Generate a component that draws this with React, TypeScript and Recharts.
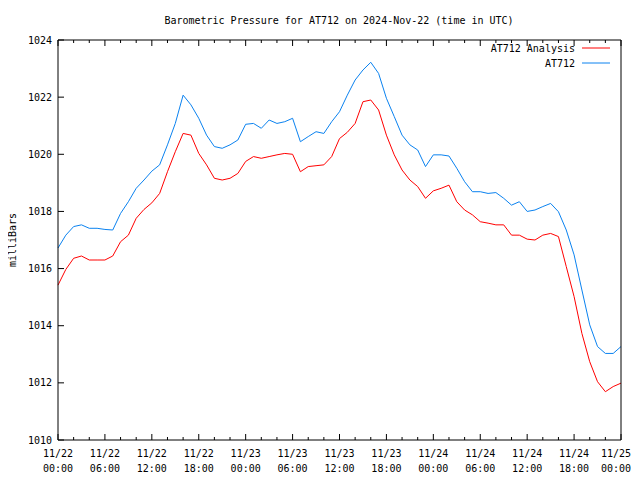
import React from 'react';
import { LineChart, Line, XAxis, YAxis } from 'recharts';

// hours since 2024-11-22 00:00 UTC
const hours = Array.from({ length: 73 }, (_, i) => i);

const at712 = [
  1016.72, 1017.17, 1017.47, 1017.53, 1017.41, 1017.41, 1017.37, 1017.35, 1017.93, 1018.34,
  1018.81, 1019.1, 1019.41, 1019.63, 1020.33, 1021.08, 1022.07, 1021.73, 1021.26, 1020.67,
  1020.27, 1020.21, 1020.33, 1020.5, 1021.05, 1021.08, 1020.91, 1021.2, 1021.08, 1021.14,
  1021.26, 1020.44, 1020.62, 1020.79, 1020.73, 1021.14, 1021.49, 1022.07, 1022.6, 1022.95,
  1023.22, 1022.83, 1021.96, 1021.32, 1020.67, 1020.33, 1020.15, 1019.57, 1019.98, 1019.98,
  1019.94, 1019.51, 1019.04, 1018.69, 1018.69, 1018.63, 1018.66, 1018.46, 1018.22, 1018.34,
  1018.0, 1018.05, 1018.17, 1018.28, 1017.99, 1017.35, 1016.48, 1015.25, 1014.03, 1013.27,
  1013.03, 1013.03, 1013.27,
];

const at712Analysis = [
  1015.42, 1015.97, 1016.36, 1016.44, 1016.3, 1016.3, 1016.3, 1016.44, 1016.94, 1017.17,
  1017.76, 1018.07, 1018.3, 1018.63, 1019.39, 1020.09, 1020.73, 1020.67, 1020.03, 1019.63,
  1019.16, 1019.1, 1019.16, 1019.33, 1019.75, 1019.92, 1019.86, 1019.92, 1019.98, 1020.03,
  1020.0, 1019.39, 1019.57, 1019.6, 1019.63, 1019.92, 1020.55, 1020.77, 1021.08, 1021.84,
  1021.9, 1021.55, 1020.67, 1019.98, 1019.45, 1019.1, 1018.87, 1018.46, 1018.72, 1018.81,
  1018.92, 1018.34, 1018.05, 1017.88, 1017.64, 1017.59, 1017.53, 1017.53, 1017.17, 1017.17,
  1017.03, 1017.0, 1017.17, 1017.23, 1017.12, 1016.07, 1015.02, 1013.73, 1012.74, 1012.04,
  1011.69, 1011.87, 1011.99,
];

const xTicks = [0, 2, 4, 6, 8, 10, 12, 14, 16, 18, 20, 22, 24, 26, 28, 30, 32, 34, 36, 38, 40, 42, 44, 46, 48, 50, 52, 54, 56, 58, 60, 62, 64, 66, 68, 70, 72];
const tickDates = ['11/22', '11/22', '11/22', '11/22', '11/23', '11/23', '11/23', '11/23', '11/24', '11/24', '11/24', '11/24', '11/25'];
const tickTimes = ['00:00', '06:00', '12:00', '18:00', '00:00', '06:00', '12:00', '18:00', '00:00', '06:00', '12:00', '18:00', '00:00'];
const yTicks = [1010, 1012, 1014, 1016, 1018, 1020, 1022, 1024];

const data = hours.map((h, i) => ({ h, analysis: at712Analysis[i], obs: at712[i] }));

const FONT = '"DejaVu Sans Mono", monospace';
const RED = '#ff0000';
const BLUE = '#0a82f0';
const W = 624;
const H = 464;

const BottomTick = (props: any) => {
  const { x, y, payload } = props;
  const major = payload.value % 6 === 0;
  const idx = payload.value / 6;
  // keep the last label inside the page edge
  const last = idx === tickDates.length - 1;
  const tx = last ? W - 1 : x;
  return (
    <g>
      <line x1={x} x2={x} y1={y} y2={y - (major ? 6 : 3)} stroke="#000" />
      {major && (
        <text fontFamily={FONT} fontSize={10} fill="#000" textAnchor={last ? 'end' : 'middle'}>
          <tspan x={tx} y={y + 17}>{tickDates[idx]}</tspan>
          <tspan x={tx} y={y + 31.5}>{tickTimes[idx]}</tspan>
        </text>
      )}
    </g>
  );
};

const TopTick = (props: any) => {
  const { x, y, payload } = props;
  const major = payload.value % 6 === 0;
  return <line x1={x} x2={x} y1={y} y2={y + (major ? 6 : 3)} stroke="#000" />;
};

const LeftTick = (props: any) => {
  const { x, y, payload } = props;
  return (
    <g>
      <line x1={x} x2={x + 6} y1={y} y2={y} stroke="#000" />
      <text x={x - 6} y={y + 3.5} fontFamily={FONT} fontSize={10} fill="#000" textAnchor="end">
        {payload.value}
      </text>
    </g>
  );
};

const RightTick = (props: any) => {
  const { x, y } = props;
  return <line x1={x} x2={x - 6} y1={y} y2={y} stroke="#000" />;
};

export default function App() {
  return (
    <div style={{ position: 'relative', width: W, height: H }}>
      <LineChart width={W} height={H} data={data} margin={{ top: 31, right: 10, bottom: 0, left: 0 }}>
        <XAxis
          xAxisId="bottom"
          dataKey="h"
          type="number"
          domain={[0, 72]}
          ticks={xTicks}
          interval={0}
          height={32}
          tickSize={0}
          tickMargin={0}
          tickLine={false}
          axisLine={{ stroke: '#000' }}
          tick={<BottomTick />}
        />
        <XAxis
          xAxisId="top"
          orientation="top"
          dataKey="h"
          type="number"
          domain={[0, 72]}
          ticks={xTicks}
          interval={0}
          height={1}
          tickSize={0}
          tickMargin={0}
          tickLine={false}
          axisLine={{ stroke: '#000' }}
          tick={<TopTick />}
        />
        <YAxis
          yAxisId="left"
          domain={[1010, 1024]}
          ticks={yTicks}
          interval={0}
          width={50}
          tickSize={0}
          tickMargin={0}
          tickLine={false}
          axisLine={{ stroke: '#000' }}
          tick={<LeftTick />}
        />
        <YAxis
          yAxisId="right"
          orientation="right"
          domain={[1010, 1024]}
          ticks={yTicks}
          interval={0}
          width={1}
          tickSize={0}
          tickMargin={0}
          tickLine={false}
          axisLine={{ stroke: '#000' }}
          tick={<RightTick />}
        />
        <Line
          xAxisId="bottom"
          yAxisId="left"
          type="linear"
          dataKey="analysis"
          stroke={RED}
          strokeWidth={1}
          dot={false}
          isAnimationActive={false}
          name="AT712 Analysis"
        />
        <Line
          xAxisId="bottom"
          yAxisId="left"
          type="linear"
          dataKey="obs"
          stroke={BLUE}
          strokeWidth={1}
          dot={false}
          isAnimationActive={false}
          name="AT712"
        />
      </LineChart>
      <svg
        width={W}
        height={H}
        style={{ position: 'absolute', left: 0, top: 0, pointerEvents: 'none' }}
        fontFamily={FONT}
        fontSize={10}
      >
        <text x={331} y={16} textAnchor="middle" fill="#000">
          Barometric Pressure for AT712 on 2024-Nov-22 (time in UTC)
        </text>
        <text x={8} y={232} textAnchor="middle" fill="#000" transform="rotate(-90 8 232)">
          milliBars
        </text>
        <text x={567} y={43.5} textAnchor="end" fill="#000">AT712 Analysis</text>
        <line x1={574} x2={602} y1={40} y2={40} stroke={RED} />
        <text x={567} y={58.5} textAnchor="end" fill="#000">AT712</text>
        <line x1={574} x2={602} y1={55} y2={55} stroke={BLUE} />
      </svg>
    </div>
  );
}
